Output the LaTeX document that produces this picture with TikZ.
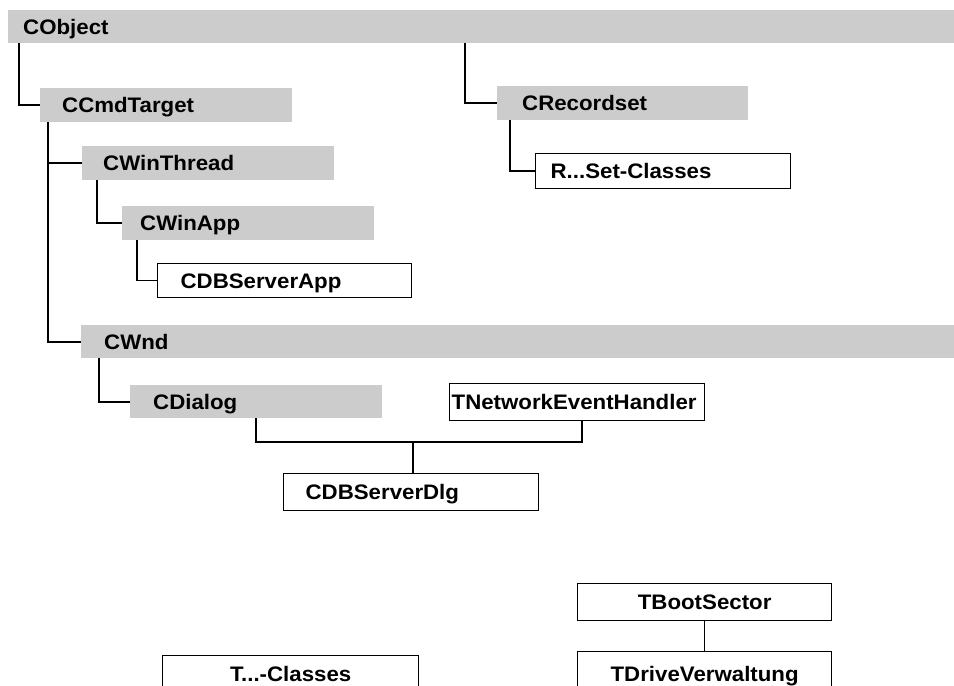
\documentclass[tikz,border=0pt]{standalone}
\usepackage{fontspec}
\newfontfamily\lab{Liberation Sans}[FakeStretch=1.06]
\definecolor{barGray}{RGB}{204,204,204}
\begin{document}
\begin{tikzpicture}[x=1pt,y=-1pt,
  lbl/.style={font=\lab\bfseries\fontsize{21}{21}\selectfont, anchor=north west,
    inner ysep=0pt, text height=15pt, text depth=0pt, align=left},
  bar/.style={lbl, fill=barGray, draw=none},
  cbox/.style={lbl, fill=white, draw=black, line width=1.3pt},
  conn/.style={draw=black, line width=1.6pt}]
\useasboundingbox (0,0) rectangle (954,686);
\clip (0,0) rectangle (954,686);

% class bars and boxes
\node[bar, minimum height=33pt, inner xsep=15pt, text width=916pt] (cobj) at (8,10) {CObject};
\node[bar, minimum height=34pt, inner xsep=22pt, text width=208pt] (ccmd) at (40,88) {CCmdTarget};
\node[bar, minimum height=34pt, inner xsep=25pt, text width=201pt] (crec) at (497,86) {CRecordset};
\node[cbox, minimum height=35pt, inner xsep=15pt, text width=225pt] (rset) at (535,153) {R...Set-Classes};
\node[bar, minimum height=34pt, inner xsep=21pt, text width=210pt] (cwt) at (82,146) {CWinThread};
\node[bar, minimum height=34pt, inner xsep=18pt, text width=216pt] (cwa) at (122,206) {CWinApp};
\node[cbox, minimum height=34pt, inner xsep=23pt, text width=208pt] (cdbapp) at (157,263) {CDBServerApp};
\node[bar, minimum height=33pt, inner xsep=23pt, text width=827pt] (cwnd) at (81,325) {CWnd};
\node[bar, minimum height=33pt, inner xsep=23pt, text width=206pt] (cdlg) at (130,385) {CDialog};
\node[cbox, minimum height=37pt, inner xsep=2pt, text width=251pt] (tneh) at (449,383) {TNetworkEventHandler};
\node[cbox, minimum height=37pt, inner xsep=22pt, text width=211pt] (cdbdlg) at (283,473) {CDBServerDlg};
\node[cbox, minimum height=37pt, inner xsep=0pt, text width=254pt, align=center] (tboot) at (577,583) {TBootSector};
\node[cbox, minimum height=45pt, inner xsep=0pt, text width=254pt, align=center] (tdv) at (577,651) {TDriveVerwaltung};
\node[cbox, minimum height=37pt, inner xsep=0pt, text width=256pt, align=center] (tcls) at (162,655) {T...-Classes};

% x positions of the vertical connector runs
\coordinate (v1) at (19,0);
\coordinate (v2) at (465,0);
\coordinate (v3) at (510,0);
\coordinate (v4) at (48,0);
\coordinate (v5) at (97,0);
\coordinate (v6) at (137,0);
\coordinate (v7) at (99,0);
\coordinate (v8) at (256,0);
\coordinate (v9) at (582,0);
\coordinate (mrg) at (413,442);

% inheritance connectors
\draw[conn] (v1 |- cobj.south) |- (ccmd.west);
\draw[conn] (v2 |- cobj.south) |- (crec.west);
\draw[conn] (v3 |- crec.south) |- (rset.west);
\draw[conn] (v4 |- ccmd.south) |- (cwnd.west);
\draw[conn] (v4 |- cwt.west) -- (cwt.west);
\draw[conn] (v5 |- cwt.south) |- (cwa.west);
\draw[conn] (v6 |- cwa.south) |- (cdbapp.west);
\draw[conn] (v7 |- cwnd.south) |- (cdlg.west);
\draw[conn] (v8 |- cdlg.south) |- (mrg) -| (v9 |- tneh.south);
\draw[conn] (mrg) -- (mrg |- cdbdlg.north);
\draw[conn] (tboot.south) -- (tdv.north);
\end{tikzpicture}
\end{document}
